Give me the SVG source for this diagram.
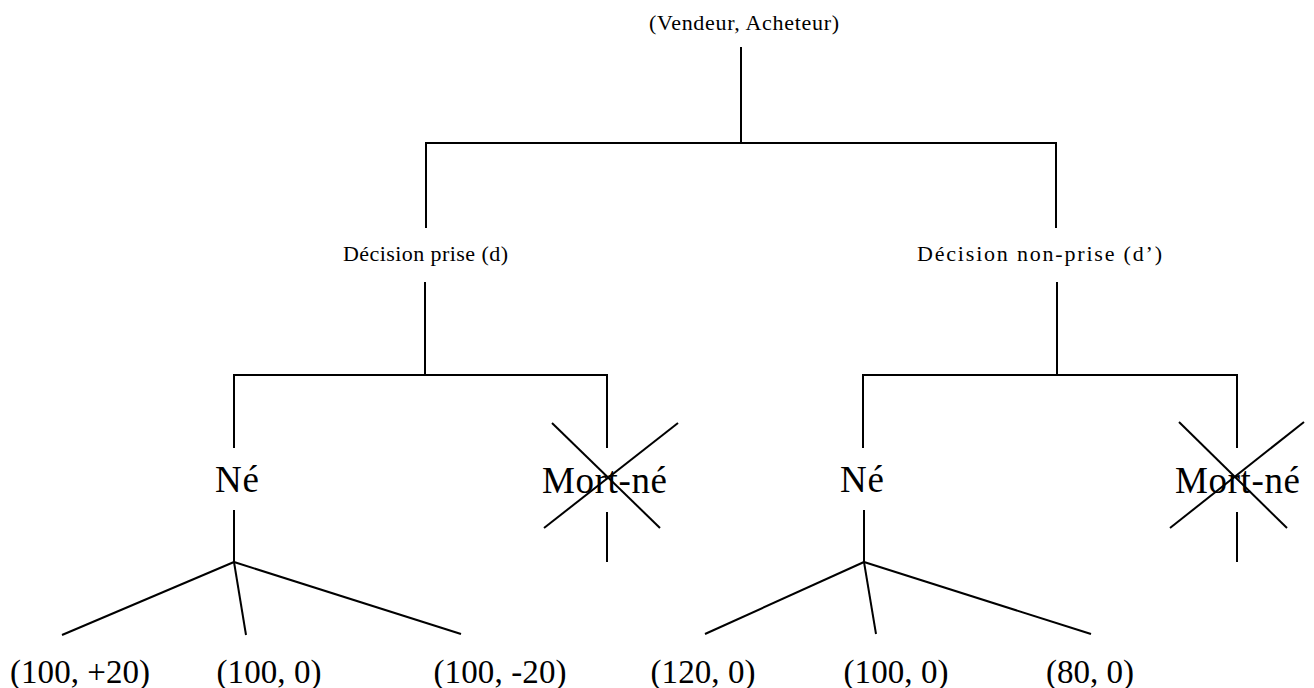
<svg xmlns="http://www.w3.org/2000/svg" width="1314" height="688" viewBox="0 0 1314 688">
  <style>
    .edge { stroke: #000; stroke-width: 2; fill: none; stroke-linecap: butt; }
    .cross { stroke: #000; stroke-width: 2; }
    text { font-family: "Liberation Serif", "Times New Roman", serif; fill: #000; text-anchor: middle; }
    .small { font-size: 22px; }
    .state { font-size: 37px; }
    .payoff { font-size: 33px; }
  </style>
  <rect width="1314" height="688" fill="#fff"/>

  <!-- tree branches -->
  <g id="connectors">
    <line class="edge" x1="741" y1="47" x2="741" y2="143"/>
    <line class="edge" x1="425" y1="143" x2="1057" y2="143"/>
    <line class="edge" x1="426" y1="143" x2="426" y2="228"/>
    <line class="edge" x1="1056" y1="143" x2="1056" y2="228"/>

    <line class="edge" x1="425" y1="282" x2="425" y2="375"/>
    <line class="edge" x1="233" y1="375" x2="608" y2="375"/>
    <line class="edge" x1="234" y1="375" x2="234" y2="448"/>
    <line class="edge" x1="607" y1="375" x2="607" y2="448"/>

    <line class="edge" x1="1057" y1="282" x2="1057" y2="375"/>
    <line class="edge" x1="862" y1="375" x2="1238" y2="375"/>
    <line class="edge" x1="863" y1="375" x2="863" y2="448"/>
    <line class="edge" x1="1237" y1="375" x2="1237" y2="448"/>

    <line class="edge" x1="607" y1="512" x2="607" y2="562"/>
    <line class="edge" x1="1237" y1="512" x2="1237" y2="562"/>

    <line class="edge" x1="234" y1="510" x2="234" y2="562"/>
    <line class="edge" x1="234" y1="562" x2="62" y2="635"/>
    <line class="edge" x1="234" y1="562" x2="246" y2="635"/>
    <line class="edge" x1="234" y1="562" x2="461" y2="634"/>

    <line class="edge" x1="864" y1="510" x2="864" y2="562"/>
    <line class="edge" x1="864" y1="562" x2="705" y2="634"/>
    <line class="edge" x1="864" y1="562" x2="876" y2="634"/>
    <line class="edge" x1="864" y1="562" x2="1091" y2="634"/>
  </g>

  <g id="root">
    <text class="small" x="744" y="30" textLength="190" lengthAdjust="spacing">(Vendeur, Acheteur)</text>
  </g>

  <g id="decision-d">
    <text class="small" x="425.5" y="261" textLength="165" lengthAdjust="spacing">Décision prise (d)</text>
  </g>

  <g id="decision-d-prime">
    <text class="small" x="1039.5" y="261" textLength="245" lengthAdjust="spacing">Décision non-prise (d’)</text>
  </g>

  <g id="ne-d">
    <text class="state" x="237" y="492" textLength="44" lengthAdjust="spacing">Né</text>
  </g>

  <g id="mortne-d">
    <text class="state" x="604.5" y="493" textLength="125" lengthAdjust="spacing">Mort-né</text>
    <line class="cross" x1="552" y1="423" x2="660" y2="528"/>
    <line class="cross" x1="678" y1="423" x2="544" y2="528"/>
  </g>

  <g id="ne-d-prime">
    <text class="state" x="862" y="492" textLength="44" lengthAdjust="spacing">Né</text>
  </g>

  <g id="mortne-d-prime">
    <text class="state" x="1237.5" y="493" textLength="125" lengthAdjust="spacing">Mort-né</text>
    <line class="cross" x1="1179" y1="422" x2="1287" y2="528"/>
    <line class="cross" x1="1304" y1="422" x2="1170" y2="528"/>
  </g>

  <g id="payoff-1"><text class="payoff" x="80" y="683" textLength="140" lengthAdjust="spacing">(100, +20)</text></g>
  <g id="payoff-2"><text class="payoff" x="269" y="683" textLength="105" lengthAdjust="spacing">(100, 0)</text></g>
  <g id="payoff-3"><text class="payoff" x="500" y="683" textLength="133" lengthAdjust="spacing">(100, -20)</text></g>
  <g id="payoff-4"><text class="payoff" x="703" y="683" textLength="105" lengthAdjust="spacing">(120, 0)</text></g>
  <g id="payoff-5"><text class="payoff" x="896" y="683" textLength="105" lengthAdjust="spacing">(100, 0)</text></g>
  <g id="payoff-6"><text class="payoff" x="1090" y="683" textLength="88" lengthAdjust="spacing">(80, 0)</text></g>
</svg>
